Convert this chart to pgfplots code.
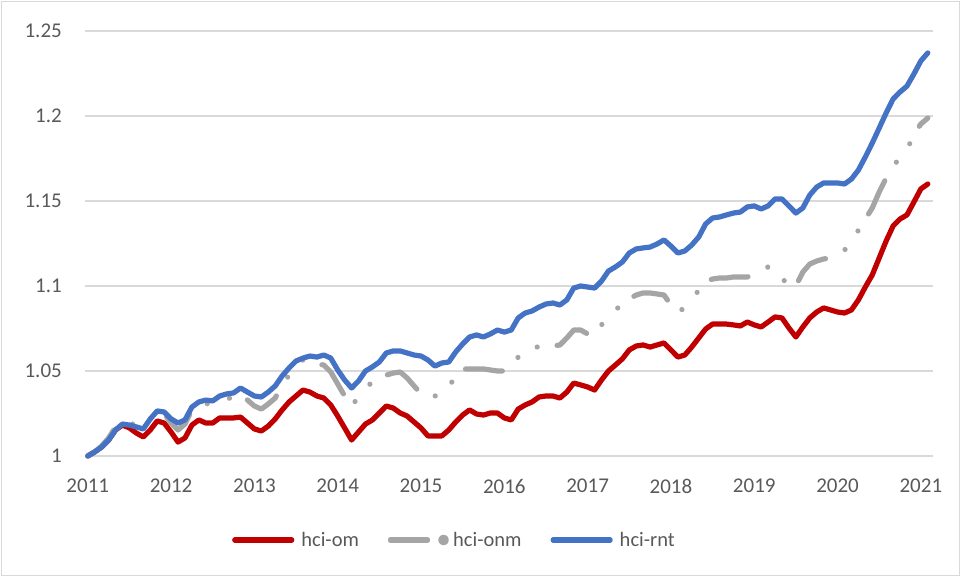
\documentclass[border=0pt]{standalone}
\usepackage{fontspec}
\setmainfont{Carlito}
\usepackage{pgfplots}
\pgfplotsset{compat=1.18}
\usepackage{pgfplotstable}
\definecolor{cred}{HTML}{C00000}
\definecolor{cgray}{HTML}{A5A5A5}
\definecolor{cblue}{HTML}{4472C4}
\definecolor{cgrid}{HTML}{D9D9D9}
\definecolor{ctext}{HTML}{595959}

\pgfplotstableread{
m om onm rnt
0 1.0000 1.0000 1.0000
1 1.0024 1.0024 1.0024
2 1.0053 1.0059 1.0053
3 1.0094 1.0106 1.0094
4 1.0153 1.0171 1.0153
5 1.0182 1.0194 1.0188
6 1.0165 1.0188 1.0182
7 1.0135 1.0188 1.0171
8 1.0112 1.0171 1.0159
9 1.0153 1.0218 1.0218
10 1.0206 1.0259 1.0265
11 1.0194 1.0247 1.0259
12 1.0141 1.0194 1.0218
13 1.0082 1.0153 1.0194
14 1.0106 1.0188 1.0212
15 1.0182 1.0271 1.0288
16 1.0212 1.0300 1.0318
17 1.0194 1.0306 1.0329
18 1.0194 1.0312 1.0324
19 1.0224 1.0318 1.0353
20 1.0224 1.0335 1.0365
21 1.0224 1.0347 1.0371
22 1.0229 1.0359 1.0400
23 1.0194 1.0329 1.0376
24 1.0159 1.0294 1.0353
25 1.0147 1.0276 1.0347
26 1.0176 1.0306 1.0376
27 1.0218 1.0341 1.0412
28 1.0271 1.0418 1.0471
29 1.0318 1.0476 1.0518
30 1.0353 1.0535 1.0559
31 1.0388 1.0565 1.0576
32 1.0376 1.0559 1.0588
33 1.0353 1.0541 1.0582
34 1.0341 1.0535 1.0594
35 1.0300 1.0494 1.0576
36 1.0235 1.0424 1.0506
37 1.0165 1.0353 1.0447
38 1.0094 1.0288 1.0400
39 1.0141 1.0353 1.0441
40 1.0188 1.0400 1.0500
41 1.0212 1.0435 1.0524
42 1.0253 1.0459 1.0553
43 1.0294 1.0476 1.0606
44 1.0282 1.0488 1.0618
45 1.0253 1.0494 1.0618
46 1.0235 1.0459 1.0606
47 1.0200 1.0412 1.0594
48 1.0165 1.0365 1.0588
49 1.0118 1.0341 1.0565
50 1.0118 1.0353 1.0529
51 1.0118 1.0359 1.0547
52 1.0153 1.0406 1.0553
53 1.0200 1.0471 1.0612
54 1.0241 1.0512 1.0659
55 1.0271 1.0512 1.0700
56 1.0247 1.0512 1.0712
57 1.0241 1.0512 1.0700
58 1.0253 1.0506 1.0718
59 1.0253 1.0500 1.0741
60 1.0224 1.0500 1.0729
61 1.0212 1.0518 1.0741
62 1.0276 1.0582 1.0812
63 1.0300 1.0624 1.0841
64 1.0318 1.0641 1.0853
65 1.0347 1.0641 1.0876
66 1.0353 1.0641 1.0894
67 1.0353 1.0647 1.0900
68 1.0341 1.0653 1.0888
69 1.0376 1.0694 1.0918
70 1.0429 1.0741 1.0988
71 1.0418 1.0741 1.1000
72 1.0406 1.0718 1.0994
73 1.0388 1.0706 1.0988
74 1.0447 1.0771 1.1029
75 1.0500 1.0824 1.1088
76 1.0535 1.0859 1.1112
77 1.0571 1.0894 1.1141
78 1.0624 1.0924 1.1194
79 1.0647 1.0947 1.1218
80 1.0653 1.0959 1.1224
81 1.0641 1.0959 1.1229
82 1.0653 1.0953 1.1247
83 1.0665 1.0947 1.1271
84 1.0624 1.0888 1.1235
85 1.0582 1.0841 1.1194
86 1.0594 1.0876 1.1206
87 1.0641 1.0918 1.1241
88 1.0694 1.0976 1.1288
89 1.0747 1.1029 1.1365
90 1.0776 1.1041 1.1400
91 1.0776 1.1047 1.1406
92 1.0776 1.1047 1.1418
93 1.0771 1.1053 1.1429
94 1.0765 1.1053 1.1435
95 1.0788 1.1053 1.1465
96 1.0771 1.1071 1.1471
97 1.0759 1.1094 1.1453
98 1.0788 1.1112 1.1471
99 1.0818 1.1106 1.1512
100 1.0812 1.1047 1.1512
101 1.0753 1.1000 1.1471
102 1.0700 1.1000 1.1429
103 1.0759 1.1082 1.1459
104 1.0812 1.1129 1.1535
105 1.0847 1.1147 1.1582
106 1.0871 1.1159 1.1606
107 1.0859 1.1165 1.1606
108 1.0847 1.1182 1.1606
109 1.0841 1.1212 1.1600
110 1.0859 1.1247 1.1629
111 1.0918 1.1329 1.1682
112 1.0994 1.1394 1.1759
113 1.1065 1.1459 1.1841
114 1.1165 1.1553 1.1929
115 1.1265 1.1635 1.2018
116 1.1353 1.1706 1.2100
117 1.1394 1.1753 1.2141
118 1.1418 1.1800 1.2176
119 1.1494 1.1894 1.2247
120 1.1571 1.1953 1.2324
121 1.1600 1.1988 1.2371
}\hcidata

\begin{document}
\begin{tikzpicture}[x=1pt,y=1pt]
\useasboundingbox (0,0) rectangle (961,577);
\draw[cgrid, line width=1.2pt] (1.5,1.5) rectangle (959.5,575.5);
\begin{axis}[
  at={(85pt,121pt)}, anchor=south west,
  scale only axis, width=848pt, height=425pt,
  xmin=-0.4, xmax=121.75, ymin=1, ymax=1.25,
  xtick={0,12,24,36,48,60,72,84,96,108,120},
  xticklabels={2011,2012,2013,2014,2015,2016,2017,2018,2019,2020,2021},
  ytick={1,1.05,1.1,1.15,1.2,1.25},
  yticklabels={1,1.05,1.1,1.15,1.2,1.25},
  /pgf/number format/assume math mode=true,
  axis line style={draw=none},
  major tick length=0pt,
  ymajorgrids,
  grid style={cgrid, line width=1.3pt},
  tick label style={font=\fontsize{21}{25}\selectfont, text=ctext},
  yticklabel style={anchor=east, inner sep=0pt, xshift=-23pt},
  xticklabel style={anchor=north, inner sep=0pt, yshift=-23pt},
  clip=false,
  legend columns=3,
  legend style={at={(0.1733,-0.1976)}, anchor=west, draw=none, fill=none,
    inner sep=0pt, font=\fontsize{20.5}{24}\selectfont, text=ctext,
    nodes={inner sep=0pt},
    /tikz/every odd column/.style={column sep=7pt},
    /tikz/every even column/.style={column sep=29pt}},
  legend image code/.code={\draw[#1, line cap=round] (0pt,0pt) -- (57pt,0pt);},
]
\addplot[cred, line width=5.2pt, line join=round, line cap=round] table[x=m, y=om] {\hcidata};
\addlegendentry{hci-om}
\addplot[cgray, line width=5.2pt, line join=round, line cap=round,
  dash pattern=on 37pt off 22pt on 0.01pt off 23pt on 0.01pt off 20pt,
  legend image code/.code={\path (0pt,0pt) -- (53pt,0pt);
    \draw[cgray, line width=5.2pt, line cap=round, overlay] (0pt,0pt) -- (36pt,0pt);
    \fill[cgray, overlay] (53pt,0pt) circle (2.7pt);}
  ] table[x=m, y=onm] {\hcidata};
\addlegendentry{hci-onm}
\addplot[cblue, line width=5.2pt, line join=round, line cap=round] table[x=m, y=rnt] {\hcidata};
\addlegendentry{hci-rnt}
\end{axis}
\end{tikzpicture}
\end{document}
